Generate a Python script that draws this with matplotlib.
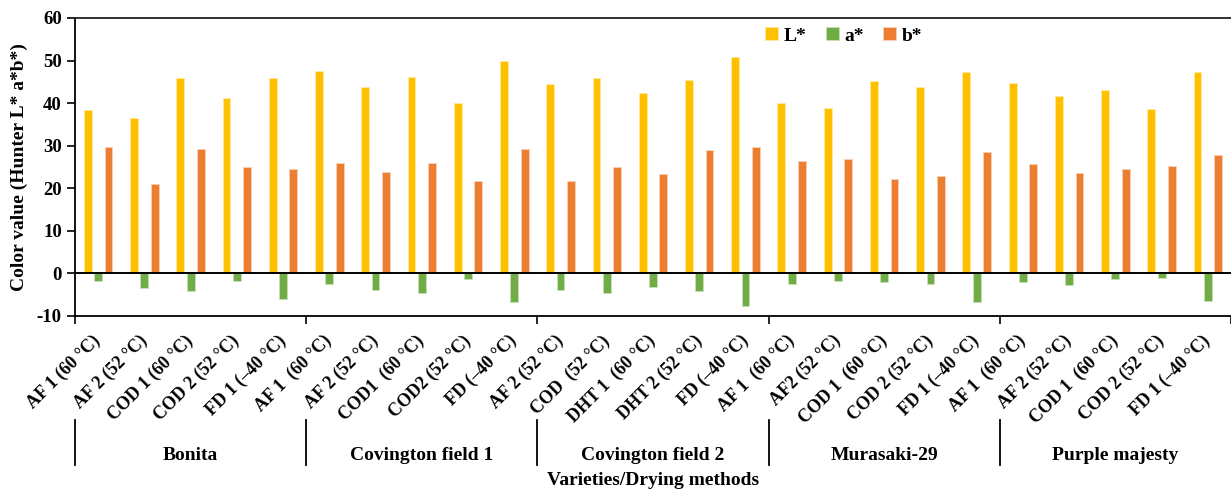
import matplotlib.pyplot as plt
import numpy as np

plt.rcParams['font.family'] = ['Liberation Serif', 'DejaVu Serif']
plt.rcParams['font.weight'] = 'bold'
plt.rcParams['axes.labelweight'] = 'bold'
plt.rcParams['axes.unicode_minus'] = False

varieties = ['Bonita', 'Covington field 1', 'Covington field 2', 'Murasaki-29', 'Purple majesty']
methods = [
    'AF 1 (60 °C)', 'AF 2 (52 °C)', 'COD 1 (60 °C)', 'COD 2 (52 °C)', 'FD 1 (–40 °C)',
    'AF 1  (60 °C)', 'AF 2 (52 °C)', 'COD1  (60 °C)', 'COD2 (52 °C)', 'FD (–40 °C)',
    'AF 2 (52 °C)', 'COD  (52 °C)', 'DHT 1  (60 °C)', 'DHT 2 (52 °C)', 'FD (–40 °C)',
    'AF 1  (60 °C)', 'AF2 (52 °C)', 'COD 1  (60 °C)', 'COD 2 (52 °C)', 'FD 1 (–40 °C)',
    'AF 1  (60 °C)', 'AF 2 (52 °C)', 'COD 1  (60 °C)', 'COD 2 (52 °C)', 'FD 1 (–40 °C)',
]
L_star = [38.5, 36.6, 45.8, 41.3, 46.0,
          47.5, 43.9, 46.2, 40.1, 49.9,
          44.6, 46.0, 42.5, 45.5, 50.8,
          40.1, 38.8, 45.3, 43.8, 47.3,
          44.7, 41.6, 43.2, 38.7, 47.2]
a_star = [-1.7, -3.5, -4.2, -1.7, -5.9,
          -2.5, -3.8, -4.5, -1.2, -6.7,
          -3.9, -4.7, -3.2, -4.2, -7.6,
          -2.6, -1.7, -2.1, -2.5, -6.7,
          -1.9, -2.8, -1.3, -1.1, -6.5]
b_star = [29.8, 21.1, 29.3, 25.0, 24.6,
          26.0, 23.9, 26.0, 21.6, 29.3,
          21.6, 25.0, 23.4, 28.9, 29.8,
          26.4, 26.8, 22.2, 22.8, 28.6,
          25.7, 23.5, 24.6, 25.2, 27.9]

fig = plt.figure(figsize=(12.31, 4.91), dpi=100)
ax = fig.add_axes([75 / 1231, 1 - 316 / 491, 1 - 75 / 1231, 298 / 491])

x = np.arange(len(methods))
step = 0.223
w = 0.17
ax.bar(x - step, L_star, w, color='#FFC000', edgecolor='#FFE8A0', linewidth=0.6, label='L*')
ax.bar(x, a_star, w, color='#70AD47', edgecolor='#C8E2B8', linewidth=0.6, label='a*')
ax.bar(x + step, b_star, w, color='#ED7D31', edgecolor='#F9CFB4', linewidth=0.6, label='b*')
ax.axhline(0, color='black', linewidth=1.4, zorder=3)

ax.set_xlim(-0.5, len(methods) - 0.5)
ax.set_ylim(-10, 60)
ax.set_yticks(range(-10, 61, 10))
ax.tick_params(axis='y', labelsize=13.5, length=6, width=1.2, direction='out')

# group boundaries as major ticks, method names on minor ticks
bounds = np.arange(-0.5, len(methods), 5)
ax.set_xticks(bounds)
ax.set_xticklabels([])
ax.tick_params(axis='x', which='major', length=6, width=1.2, direction='out')
ax.set_xticks(x, minor=True)
ax.set_xticklabels(methods, minor=True, rotation=45, ha='right', va='center',
                   rotation_mode='anchor', fontsize=13)
ax.tick_params(axis='x', which='minor', length=0, pad=16)

for s in ['left', 'bottom', 'top']:
    ax.spines[s].set_linewidth(1.3)
ax.spines['right'].set_visible(False)
ax.spines['top'].set_color('#222222')

trans = ax.get_xaxis_transform()
for b in bounds[:-1]:
    ax.plot([b, b], [-0.349, -0.5], color='black', linewidth=1.3,
            transform=trans, clip_on=False)
for i, v in enumerate(varieties):
    ax.text(i * 5 + 2, -0.468, v, transform=trans, ha='center', va='center', fontsize=14)
ax.text(12, -0.552, 'Varieties/Drying methods', transform=trans, ha='center', va='center',
        fontsize=14)

ax.set_ylabel('Color value (Hunter L* a*b*)', fontsize=14, labelpad=6)

ax.legend(loc='center', bbox_to_anchor=(0.665, 0.94), ncol=3, frameon=False,
          fontsize=14, handlelength=0.65, handleheight=0.65, handletextpad=0.3,
          columnspacing=1.0)

fig.savefig('out.png', dpi=100)
